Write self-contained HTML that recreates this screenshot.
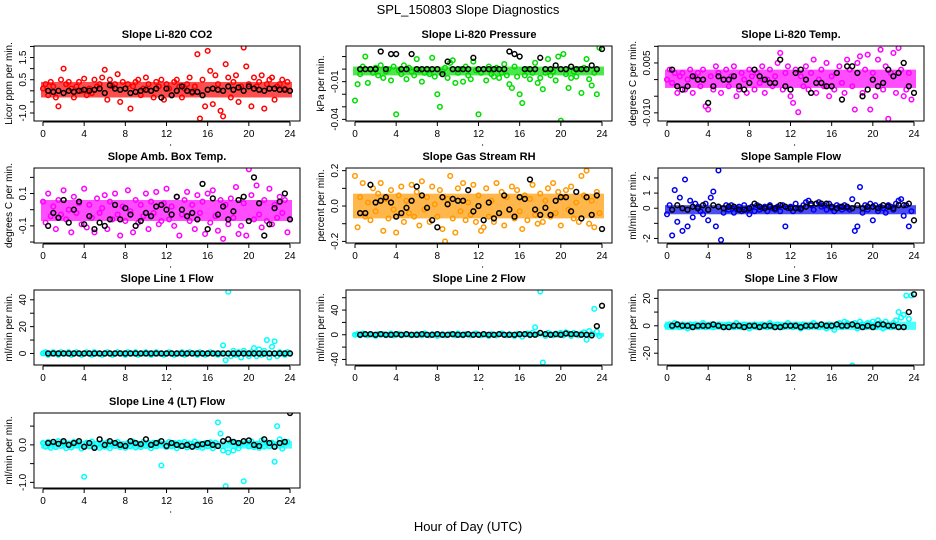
<!DOCTYPE html>
<html><head><meta charset="utf-8"><style>
html,body{margin:0;padding:0;background:#fff;}
svg{display:block;font-family:"Liberation Sans",sans-serif;}
</style></head><body>
<svg id="chart" width="936" height="540" viewBox="0 0 936 540">
<text x="468" y="14" text-anchor="middle" font-size="13">SPL_150803  Slope Diagnostics</text>
<text x="468" y="531" text-anchor="middle" font-size="13">Hour of Day (UTC)</text>
</svg>
<script>
// shared time sampling (hours)
const colorStart = 0, colorStep = 0.25;
const blackStart = 0.5, blackStep = 0.5;

const titles = ["Slope Li-820 CO2","Slope Li-820 Pressure","Slope Li-820 Temp.","Slope Amb. Box Temp.","Slope Gas Stream RH","Slope Sample Flow","Slope Line 1 Flow","Slope Line 2 Flow","Slope Line 3 Flow","Slope Line 4 (LT) Flow"];
const yTitles = ["Licor ppm per min.","kPa per min.","degrees C per min.","degrees C per min.","percent per min.","ml/min per min.","ml/min per min.","ml/min per min.","ml/min per min.","ml/min per min."];
const colors = ["#ff0000","#00dd00","#ff00ff","#ff00ff","#ff9900","#0000ee","#00ffff","#00ffff","#00ffff","#00ffff"];
const yDomains = [[-1.36,2.02],[-0.0413,0.0184],[-0.01245,0.0101],[-0.206,0.258],[-0.209,0.215],[-2.3,2.66],[-8.6,47.3],[-49,72.5],[-28.6,26.1],[-1.15,0.85]];
const yTicks = [[-1,-0.5,0,0.5,1,1.5,2],[-0.04,-0.03,-0.02,-0.01,0,0.01],[-0.01,-0.005,0,0.005,0.01],[-0.2,-0.1,0,0.1,0.2],[-0.2,-0.1,0,0.1,0.2],[-2,-1,0,1,2],[0,10,20,30,40],[-40,-20,0,20,40,60],[-20,-10,0,10,20],[-1,-0.5,0,0.5]];
const yTickLabels = [["-1.0","","","0.5","","1.5",""],["-0.04","","","-0.01","",""],["-0.010","","","0.005",""],["","-0.1","","0.1",""],["-0.2","","0.0","","0.2"],["-2","","0","1","2"],["0","","20","","40"],["-40","","0","","40",""],["-20","","0","","20"],["-1.0","","0.0",""]];
const valueScales = [1,0.001,0.001,0.01,0.01,0.1,1,1,1,0.01];
const xTicks = [0,4,8,12,16,20,24];

const bandRanges = [[-0.3,0.4],[-5,2],[-2.5,3],[-7,6],[-7,7],[-4,2],[-2,2],[-3,3],[-3,3],[-10,10]];

const colorVals0 = [0.1,0.3,-0.2,0.4,0.2,-0.3,-0.7,0.5,1.0,0.3,0.4,0.1,-0.3,0.2,0.4,0.0,0.55,-0.2,0.1,-0.1,0.5,0.2,0.3,0.6,
0.95,-0.4,0.5,0.2,0.3,0.75,-0.5,0.4,0.1,0.3,-0.8,0.2,0.4,0.5,-0.2,0.1,0.6,0.3,0.0,-0.3,0.4,0.2,0.5,-0.4,
0.3,0.1,-0.2,0.4,0.5,0.2,-0.3,0.1,0.3,0.6,-0.1,0.2,1.65,-1.25,0.5,-0.7,1.8,0.9,-0.6,0.7,0.3,-0.9,-1.15,1.2,
0.6,-0.3,0.4,0.7,-0.5,0.2,1.95,1.1,0.3,-0.7,0.6,0.2,0.4,0.7,-0.8,0.3,0.5,0.6,-0.4,0.2,0.3,0.5,0.1,0.4];
const colorVals1 = [-25,-12,-4,2,10,-11,0,-3,1,-5,3,-7,-2,0,-9,2,-36,-1,-4,3,-8,1,-2,-5,
8,-1,-10,-3,0,-4,9,-6,-20,-30,-2,1,-7,5,7,-11,-3,0,-10,2,-5,-8,6,-1,
-36,-3,0,-9,2,-4,-6,1,-7,-3,4,-5,-12,-15,2,-6,-20,-27,-5,0,-8,-3,5,-11,
-7,-16,-3,8,-5,-2,-9,10,-41,12,-4,-15,-7,-2,-6,0,-19,1,8,-8,-13,-3,-20,17];
const colorVals2 = [0,3,-1,2,-4,1,2,-3,0,3,-4,1,2,-2,3,-8,-9,1,-3,4,2,-4,0,3,
-2,1,4,-5,-3,2,0,-4,3,1,-3,2,-1,4,-4,0,3,-2,1,5,8,-3,2,4,
-5,-7,3,-9.8,1,-2,4,-3,2,6,-4,0,3,-2,5,-5,1,-3,2,4,-1,-4,6,3,
-2,-9,5,7,-4,3,7.5,-9,2,-5,6,9,-3,4,-11.8,2,8,-4,9.5,3,-5,-3,2,-6];
const colorVals3 = [5,-8,10,-4,2,-12,6,-3,12,-6,0,-14,8,-2,4,-9,13,-11,3,-5,-14,7,-2,1,
9,-12,5,-6,10,-3,-16,2,-7,12,-1,-14,6,-8,3,-4,10,-12,5,-2,11,-9,-7,4,
13,-6,2,-10,8,-16,-3,6,11,-7,3,-12,9,-2,5,-15,10,-8,12,-4,-13,6,-18,3,
-9,7,-5,14,-15,-10,4,-16,25,9,-6,15,-3,-11,6,-7,13,-9,3,-5,8,-2,6,-14];
const colorVals4 = [17,-12,5,13,-6,2,-8,10,-3,7,13,-14,4,-7,9,-2,-15,6,11,-9,3,-4,12,-6,
8,-11,14,-2,5,-9,11,1,-6,9,-13,-20,4,17,-7,-15,10,-3,13,-8,2,-5,12,-9,
6,-14,-12,10,-6,3,-9,13,-4,8,-11,5,-2,11,-7,9,-3,-13,6,-8,4,12,-5,-10,
7,-9,3,10,-6,13,-4,8,-11,5,9,-2,11,-7,2,-9,17,6,20,-10,3,-12,8,-4];
const colorVals5 = [-4,2,-18,12,-9,7,-15,19,-12,5,-6,3,1,-2,-4,3,-8,7,11,-12,25,-21,-3,2,
-1,2,-3,0,1,-2,2,-1,-4,1,-2,2,-1,0,1,-2,2,0,-1,1,-2,2,-12,0,
1,-2,3,0,-1,2,4,5,2,-1,3,4,1,2,-1,3,0,-2,2,1,-1,2,0,-1,
6,-15,-12,14,-3,2,-1,3,-8,2,-2,1,0,-3,2,1,-1,3,5,6,-5,2,-12,-2];
const colorVals6 = [0,1,-1,0,1,0,-1,1,0,0,1,-1,0,1,0,-1,0,1,0,-1,1,0,0,-1,
0,1,0,-1,0,1,0,0,-1,1,0,0,1,-1,0,0,1,0,-1,0,1,0,0,-1,
0,1,0,-1,0,0,1,-1,0,1,0,0,-1,1,0,-1,0,1,0,0,-1,0,6,-5,
46,-2,2,-1,1,-3,2,0,-2,1,4,-2,3,-1,2,10,-3,5,9,-2,1,0,-1,1];
const colorVals7 = [0,1,-1,2,0,-1,1,0,-2,1,0,1,-1,0,2,-1,0,1,-1,0,1,0,-1,0,
1,0,-1,2,0,-1,1,0,-2,0,1,-1,0,1,0,-1,2,0,-1,1,0,-1,0,2,
0,-1,1,0,-2,1,0,-1,1,2,0,-1,1,0,-2,1,0,-3,1,2,-1,3,12,1,
70,-45,-2,3,1,-1,2,0,3,-1,4,2,-2,3,1,-1,2,4,-8,6,2,42,5,-2];
const colorVals8 = [0,1,-1,2,0,-1,1,0,-2,1,0,1,-1,0,2,-1,0,1,-1,0,1,0,-1,0,
1,0,-1,2,0,-1,1,0,-2,0,1,-1,0,1,0,-1,2,0,-1,1,0,-1,0,2,
0,-1,1,0,-2,1,0,-1,1,2,0,-1,1,0,-2,1,0,-3,1,2,-1,3,2,1,
-29,2,-2,3,1,-1,2,0,3,-1,4,2,-2,3,1,-1,2,4,10,6,8,22,5,22];
const colorVals9 = [5,-5,8,-8,3,-6,10,-3,6,-9,4,-7,8,-2,5,-10,-85,6,-4,9,-6,3,-8,5,
-5,7,-9,4,-3,8,-6,2,-8,5,-4,9,-7,3,-6,8,-3,5,-9,6,-4,7,-55,3,
-6,8,-4,5,-9,6,-3,8,-7,4,-5,9,-6,3,-8,5,-4,7,-9,6,60,30,-15,-110,
-20,8,-15,6,-9,5,-97,7,-4,9,-6,3,-8,12,-5,7,-4,6,-45,50,15,-10,5,8];
const colorSeries = [colorVals0,colorVals1,colorVals2,colorVals3,colorVals4,colorVals5,colorVals6,colorVals7,colorVals8,colorVals9];

const blackVals0 = [0.0,-0.05,0.0,-0.1,0.0,-0.05,0.0,0.05,0.0,0.05,0.1,-0.1,0.25,0.1,0.05,0.1,-0.1,-0.05,0.0,0.05,0.0,0.1,-0.3,0.1,-0.2,0.0,0.2,0.0,-0.05,-0.05,-0.2,0.05,0.1,0.05,0.0,0.2,0.05,0.15,0.0,0.2,0.1,0.05,0.0,0.1,0.1,0.05,0.05,0.0];
const blackVals1 = [0,0,0,0,14,0,12,12,0,0,12,0,0,0,0,0,-4,6,0,0,0,0,9,0,0,0,0,0,0,14,12,10,0,0,0,9,0,0,3,0,0,2,0,0,0,3,0,16];
const blackVals2 = [3,-2,-3,-2,1,0,0,-7,-2,1,0,0,1,-2,-3,-1,3,1,0,-1,-1,6,-2,-3,2,3,0,-4,-1,-1,-2,-2,2,-6,4,4,2,-5,-3,0,-2,-1,3,1,2,5,-2,-4];
const blackVals3 = [-10,-2,-5,6,-8,0,5,-9,-4,-12,-8,-10,-6,3,-6,1,-3,-10,-7,-2,-4,2,3,0,-3,8,0,-4,-2,-6,16,-12,7,-3,2,-6,-1,6,8,-7,20,4,-16,-9,1,5,10,-6];
const blackVals4 = [-4,-4,12,2,3,5,2,-6,-4,-1,3,11,6,-1,-8,-12,5,1,4,3,3,9,-3,0,-8,2,-7,-4,6,-2,-6,5,4,15,-2,-5,-1,-5,3,5,5,-3,8,-7,5,-5,6,-13];
const blackVals5 = [-1,2,0,-1,1,0,2,-1,2,1,0,1,1,-1,-1,0,3,1,0,1,0,2,1,0,0,0,1,3,3,3,3,1,0,1,1,0,2,0,1,1,0,2,1,0,2,2,3,-8];
const blackVals6 = [0,0,0,0,0,0,0,0,0,0,0,0,0,0,0,0,0,0,0,0,0,0,0,0,0,0,0,0,0,0,0,0,0,0,0,0,0,0,0,0,0,0,0,0,0,0,0,0];
const blackVals7 = [0,1,1,0,1,0,0,1,0,1,0,0,1,0,0,1,0,0,1,0,0,1,0,0,1,0,0,1,0,0,0,1,1,0,0,3,1,0,1,0,2,1,1,0,0,-1,14,47];
const blackVals8 = [0,1,0,0,-1,0,0,0,1,0,-1,-1,0,0,-1,0,0,-1,0,0,-1,-1,0,0,0,-1,0,0,0,1,0,0,1,0,0,1,0,-1,0,-1,1,1,0,0,-1,-1,10,23];
const blackVals9 = [5,8,3,10,0,5,10,-5,5,-8,15,0,10,5,0,-3,10,5,2,15,0,5,10,-3,5,0,-3,0,-5,0,2,5,0,-3,10,15,8,5,10,12,0,-3,15,5,-5,5,8,85];
const blackSeries = [blackVals0,blackVals1,blackVals2,blackVals3,blackVals4,blackVals5,blackVals6,blackVals7,blackVals8,blackVals9];

const NS = "http://www.w3.org/2000/svg";
const svg = document.getElementById("chart");
function mk(tag, attrs, parent){ const e=document.createElementNS(NS,tag); for(const k in attrs) e.setAttribute(k,attrs[k]); (parent||svg).appendChild(e); return e; }
const boxTops=[46,168,290,413];

for(let p=0;p<10;p++){
  const col=p%3,row=Math.floor(p/3);
  const L=34+312*col, T=boxTops[row], W=266, H=75;
  const g=mk("g",{});
  
  
  const xs=h=>L+9+h*(247/24);
  const [y0,y1]=yDomains[p];
  const ys=v=>T+H-(v-y0)/(y1-y0)*H;
  const sc=valueScales[p];
  const cp=mk("clipPath",{id:"cp"+p},g);
  mk("rect",{x:L,y:T,width:W,height:H},cp);
  const br=bandRanges[p];
  const band=mk("rect",{x:xs(0)-2,y:ys(br[1]*sc),width:xs(24)-xs(0)+4,height:ys(br[0]*sc)-ys(br[1]*sc),fill:colors[p],opacity:0.7},g);
  
  
  const pts=mk("g",{"clip-path":"url(#cp"+p+")"},g);
  colorSeries[p].forEach((v,i)=>{
    const c=mk("circle",{cx:xs(colorStart+i*colorStep),cy:ys(v*sc),r:2.3,fill:"none",stroke:colors[p],"stroke-width":1.5},pts);
    
    
  });
  blackSeries[p].forEach((v,i)=>{
    const c=mk("circle",{cx:xs(blackStart+i*blackStep),cy:ys(v*sc),r:2.4,fill:"none",stroke:"#000","stroke-width":1.5},pts);
    
    
  });
  const box=mk("rect",{x:L,y:T,width:W,height:H,fill:"none",stroke:"#000","stroke-width":1},g);
  
  
  const t=mk("text",{x:L+W/2,y:T-8,"text-anchor":"middle","font-size":11,"font-weight":"bold"},g);
  t.textContent=titles[p];
  
  
  mk("line",{x1:xs(0),x2:xs(24),y1:T+H+1,y2:T+H+1,stroke:"#000"},g);
  xTicks.forEach(h=>{
    mk("line",{x1:xs(h),x2:xs(h),y1:T+H+1,y2:T+H+5,stroke:"#000"},g);
    const tx=mk("text",{x:xs(h),y:T+H+16,"text-anchor":"middle","font-size":10},g);
    tx.textContent=h;
    
    
  });
  mk("circle",{cx:xs(12.4),cy:T+H+24,r:0.6,fill:"#000"},g);
  yTicks[p].forEach((v,i)=>{
    const y=ys(v);
    if(y<T-1||y>T+H+1) return;
    mk("line",{x1:L-4,x2:L,y1:y,y2:y,stroke:"#000"},g);
    const lab=yTickLabels[p][i];
    if(lab){
      const tx=mk("text",{x:L-8,y:y,"text-anchor":"middle","font-size":10,transform:`rotate(-90 ${L-8} ${y})`},g);
      tx.textContent=lab;
      
      
    }
  });
  const yt=mk("text",{x:L-22,y:T+H/2,"text-anchor":"middle","font-size":10,transform:`rotate(-90 ${L-22} ${T+H/2})`},g);
  yt.textContent=yTitles[p];
  
  
}
</script>
</body></html>
